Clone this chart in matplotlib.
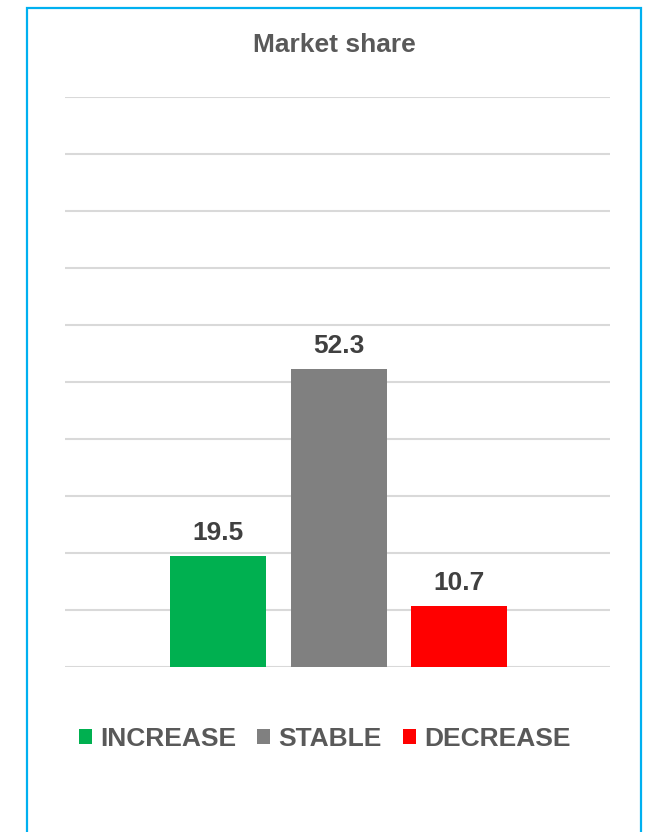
import numpy as np
import matplotlib.pyplot as plt
from matplotlib.patches import Rectangle, Patch

# Daten
labels = ['INCREASE', 'STABLE', 'DECREASE']
values = [19.5, 52.3, 10.7]
colors = ['#00b050', '#808080', '#ff0000']

plt.rcParams['font.family'] = ['Liberation Sans', 'DejaVu Sans']

fig = plt.figure(figsize=(6.49, 8.32), dpi=100)
ax = fig.add_axes([65/649, 1 - 667/832, 545/649, 570/832])

# Rahmen um die ganze Grafik
fig.patches.append(Rectangle((27/649, -0.05), 614/649, 1.05 - 8/832,
                             transform=fig.transFigure, fill=False,
                             edgecolor='#00b0f0', linewidth=1.6))

offsets = [-0.2195, 0.003, 0.2225]
for off, val, col in zip(offsets, values, colors):
    ax.bar(off, val, width=0.176, color=col, zorder=3)
    ax.annotate(f'{val}', (off, val), xytext=(0, 8), textcoords='offset points',
                ha='center', va='bottom', fontsize=19, fontweight='bold', color='#404040')

ax.set_xlim(-0.5, 0.5)
ax.set_ylim(0, 100)
ax.set_yticks(np.arange(0, 101, 10))
ax.yaxis.grid(True, color='#d9d9d9', linewidth=1.5, zorder=0)
ax.set_xticks([])
ax.tick_params(axis='y', length=0, labelleft=False)
for s in ax.spines.values():
    s.set_visible(False)

fig.text(334/649, 1 - 45/832, 'Market share', ha='center', va='center',
         fontsize=19, fontweight='bold', color='#595959')

handles = [Patch(facecolor=c, label=l) for l, c in zip(labels, colors)]
leg = fig.legend(handles=handles, loc='center', bbox_to_anchor=(0.5, 1 - 739/832),
                 ncol=3, frameon=False, handlelength=0.5, handleheight=0.5,
                 handletextpad=0.3, columnspacing=0.8,
                 prop={'size': 19, 'weight': 'bold'})
for t in leg.get_texts():
    t.set_color('#595959')

fig.savefig('out.png', dpi=100)
